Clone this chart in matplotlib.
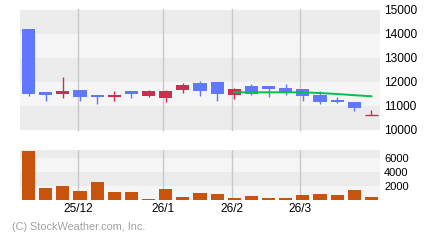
import matplotlib
matplotlib.use("Agg")
import matplotlib.pyplot as plt

# weekly OHLC
opens = [14208, 11583, 11500, 11667, 11458, 11375, 11625, 11417, 11333, 11667, 11958,
         12000, 11458, 11833, 11833, 11750, 11708, 11458, 11250, 11167, 10625]
highs = [14208, 11583, 12208, 11667, 11458, 11625, 11625, 11667, 11667, 11958, 12042,
         12000, 11750, 11917, 11833, 11917, 11708, 11625, 11375, 11167, 10833]
lows = [11417, 11208, 11333, 11208, 11083, 11208, 11333, 11375, 11167, 11542, 11417,
        11208, 11292, 11458, 11375, 11458, 11208, 11083, 11125, 10792, 10625]
closes = [11500, 11458, 11625, 11375, 11375, 11458, 11500, 11625, 11625, 11875, 11625,
          11500, 11708, 11500, 11708, 11583, 11417, 11167, 11167, 10917, 10625]
volumes = [7000, 1714, 2000, 1286, 2571, 1143, 1143, 143, 1571, 429, 1000,
           857, 286, 571, 286, 286, 714, 857, 714, 1429, 429]
ma_idx = [12, 13, 14, 15, 16, 17, 18, 19, 20]
ma_vals = [11571, 11571, 11571, 11571, 11571, 11540, 11500, 11450, 11404]

month_pos = [2.9, 7.86, 11.88, 15.85]
month_labels = ["25/12", "26/1", "26/2", "26/3"]
price_ticks = [10000, 11000, 12000, 13000, 14000, 15000]
vol_ticks = [2000, 4000, 6000]

BLUE = "#5f78ff"
RED = "#d22a50"
ORANGE = "#c8530c"
GREEN = "#00c050"
DARK = "#ebebeb"
LIGHT = "#f5f5f5"
GRID = "#c8c8c8"
FONT = ["Liberation Sans", "DejaVu Sans"]

fig = plt.figure(figsize=(4.4, 2.4), dpi=100)
W, H = 440.0, 240.0
ax = fig.add_axes([20 / W, 110 / H, 360 / W, 120 / H])
vx = fig.add_axes([20 / W, 40 / H, 360 / W, 50 / H])

n = len(opens)
bw = 0.76

# price panel
ax.set_xlim(-0.5, n - 0.5)
ax.set_ylim(10000, 15000)
for i, lo in enumerate(range(10000, 15000, 1000)):
    ax.axhspan(lo, lo + 1000, color=DARK if i % 2 == 0 else LIGHT, lw=0, zorder=0)
for p in month_pos:
    ax.axvline(p, color=GRID, lw=1, zorder=1, clip_on=False, ymin=0, ymax=1.008)

for i in range(n):
    o, h, l, c = opens[i], highs[i], lows[i], closes[i]
    col = RED if c >= o else BLUE
    ax.vlines(i, l, h, color=col, lw=1, zorder=2)
    if o == c:
        ax.hlines(o, i - bw / 2, i + bw / 2, color=col, lw=1, zorder=3)
    else:
        ax.bar(i, abs(c - o), bottom=min(o, c), width=bw, color=col, lw=0, zorder=3)

ax.plot(ma_idx, ma_vals, color=GREEN, lw=1.4, zorder=4)

ax.set_xticks([])
ax.yaxis.tick_right()
ax.set_yticks(price_ticks)
ax.set_yticklabels([str(t) for t in price_ticks], family=FONT, fontsize=8.6)
ax.tick_params(axis="y", length=0, pad=3)
for s in ax.spines.values():
    s.set_visible(False)

# volume panel
vmax = 7143
vx.set_xlim(-0.5, n - 0.5)
vx.set_ylim(0, vmax)
bands = [(0, 2000, LIGHT), (2000, 4000, DARK), (4000, 6000, LIGHT), (6000, vmax, DARK)]
for lo, hi, c in bands:
    vx.axhspan(lo, hi, color=c, lw=0, zorder=0)
for p in month_pos:
    vx.axvline(p, color=GRID, lw=1, zorder=1)
vx.bar(range(n), volumes, width=bw, color=ORANGE, lw=0, zorder=3)

vx.yaxis.tick_right()
vx.set_yticks(vol_ticks)
vx.set_yticklabels([str(t) for t in vol_ticks], family=FONT, fontsize=8)
vx.set_xticks(month_pos)
vx.set_xticklabels(month_labels, family=FONT, fontsize=8.6)
vx.tick_params(axis="both", length=0)
vx.tick_params(axis="y", pad=3)
vx.tick_params(axis="x", pad=2)
for s in vx.spines.values():
    s.set_visible(False)

fig.text(12 / W, 1 - 227 / H, "(C) StockWeather.com, Inc.", color="#a0a0a0",
         family=FONT, fontsize=7.8, va="center", ha="left")

fig.savefig("out.png", dpi=100)
